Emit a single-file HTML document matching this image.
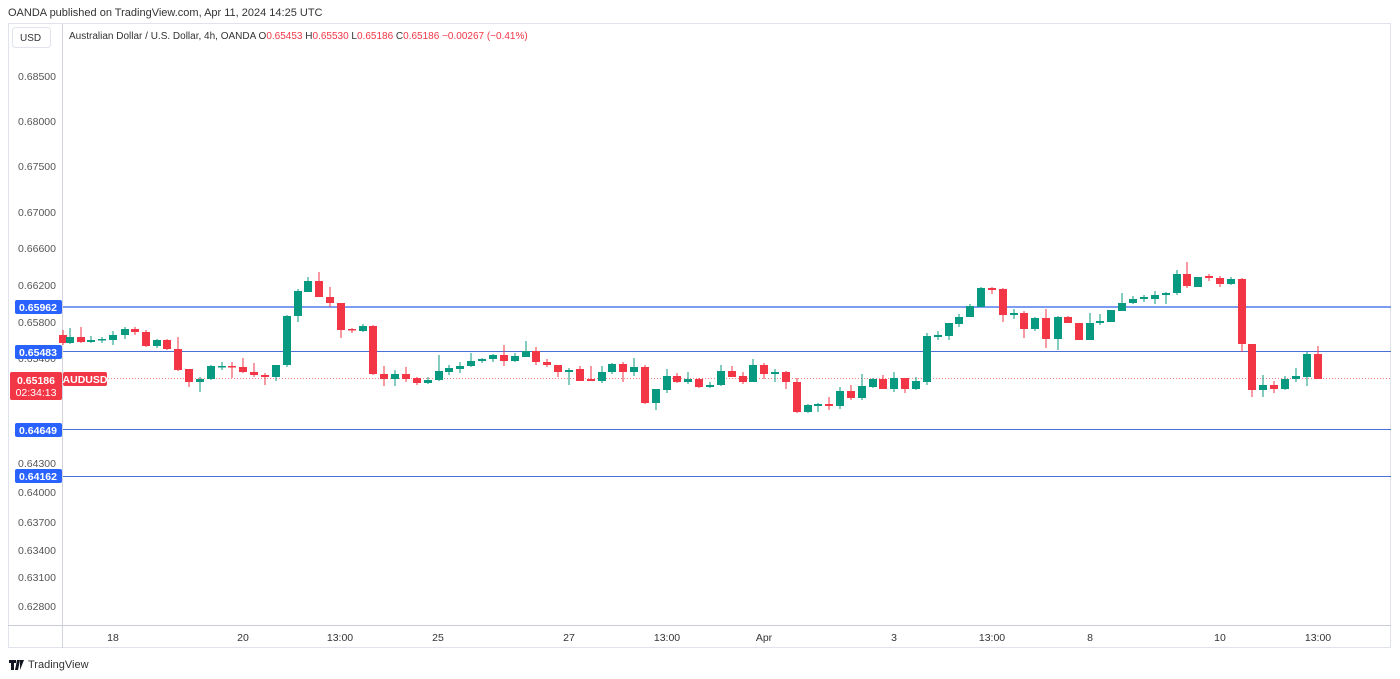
<!DOCTYPE html>
<html><head><meta charset="utf-8"><style>
html,body{margin:0;padding:0;background:#fff;width:1400px;height:679px;overflow:hidden;font-family:"Liberation Sans",sans-serif}
</style></head><body>
<svg id="s" width="1400" height="679" xmlns="http://www.w3.org/2000/svg" font-family="Liberation Sans, sans-serif">
<text x="8" y="16" font-size="11" fill="#333">OANDA published on TradingView.com, Apr 11, 2024 14:25 UTC</text>
<rect x="8.5" y="23.5" width="1382" height="624" fill="none" stroke="#e0e3eb"/>
<line x1="62.5" y1="24" x2="62.5" y2="648" stroke="#d1d4dc"/>
<line x1="8" y1="625.5" x2="1391" y2="625.5" stroke="#c8cbd3"/>
<rect x="12.5" y="27.5" width="38" height="20" rx="3" fill="#fff" stroke="#e0e3eb"/>
<text x="20" y="41" font-size="10" fill="#333">USD</text>
<text x="69" y="39" font-size="10" fill="#333">Australian Dollar / U.S. Dollar, 4h, OANDA <tspan>O</tspan><tspan fill="#f23645">0.65453</tspan> <tspan>H</tspan><tspan fill="#f23645">0.65530</tspan> <tspan>L</tspan><tspan fill="#f23645">0.65186</tspan> <tspan>C</tspan><tspan fill="#f23645">0.65186  −0.00267 (−0.41%)</tspan></text>
<g font-size="10.5" fill="#555" text-anchor="end">
<text x="56" y="80">0.68500</text><text x="56" y="125">0.68000</text><text x="56" y="170">0.67500</text>
<text x="56" y="216">0.67000</text><text x="56" y="252">0.66600</text><text x="56" y="289">0.66200</text>
<text x="56" y="326">0.65800</text><text x="56" y="362">0.65400</text><text x="56" y="399">0.65000</text>
<text x="56" y="467">0.64300</text><text x="56" y="496">0.64000</text><text x="56" y="526">0.63700</text>
<text x="56" y="554">0.63400</text><text x="56" y="581">0.63100</text><text x="56" y="610">0.62800</text>
</g>
<g font-size="10.5" fill="#333" text-anchor="middle">
<text x="113" y="641">18</text><text x="243" y="641">20</text><text x="340" y="641">13:00</text>
<text x="438" y="641">25</text><text x="569" y="641">27</text><text x="667" y="641">13:00</text>
<text x="764" y="641">Apr</text><text x="894" y="641">3</text><text x="992" y="641">13:00</text>
<text x="1090" y="641">8</text><text x="1220" y="641">10</text><text x="1318" y="641">13:00</text>
</g>
<line x1="63" y1="307" x2="1391" y2="307" stroke="#7b9cf0" stroke-width="2"/>
<line x1="63" y1="351.5" x2="1391" y2="351.5" stroke="#4a6fd8" stroke-width="1"/>
<line x1="63" y1="429.5" x2="1391" y2="429.5" stroke="#4a6fd8" stroke-width="1"/>
<line x1="63" y1="476.5" x2="1391" y2="476.5" stroke="#4a6fd8" stroke-width="1"/>
<line x1="63" y1="378.5" x2="1391" y2="378.5" stroke="#f77c80" stroke-dasharray="1,2"/>
<g id="c"></g>
<g font-size="10.5" font-weight="bold" fill="#fff" text-anchor="middle">
<rect x="15" y="300" width="47" height="14" rx="2" fill="#2962ff"/><text x="38" y="311">0.65962</text>
<rect x="15" y="345" width="47" height="14" rx="2" fill="#2962ff"/><text x="38" y="356">0.65483</text>
<rect x="15" y="423" width="47" height="14" rx="2" fill="#2962ff"/><text x="38" y="434">0.64649</text>
<rect x="15" y="469" width="47" height="14" rx="2" fill="#2962ff"/><text x="38" y="480">0.64162</text>
<rect x="10" y="372" width="52" height="28" rx="2" fill="#f23645"/><text x="36" y="384">0.65186</text>
<text x="36" y="396" font-weight="normal">02:34:13</text>
<rect x="63" y="372" width="44" height="14" rx="2" fill="#f23645"/><text x="85" y="383">AUDUSD</text>
</g>
<g transform="translate(9,659)"><path d="M0 1h7v3H5v7H2V4H0z M8 1h3l-2 10H6z M11 1h4l-4 10z" fill="#131722"/></g>
<text x="28" y="668" font-size="11" fill="#333">TradingView</text>
</svg>
<script>
var G='#089981',R='#f23645';
var d=[
[63,335,343,330,345,R],[70,337,343,328,344,G],[81,337,342,327,343,R],[91,340,342,336,343,G],[102,339,340,337,343,G],
[113,335,340,331,345,G],[125,329,335,327,339,G],[135,329,332,327,335,R],[146,332,346,330,347,R],[157,340,346,339,348,G],
[167,340,349,339,350,R],[178,349,370,337,371,R],[189,369,382,369,387,R],[200,379,382,377,392,G],[211,366,379,365,380,G],
[222,366,367,362,370,G],[232,366,367,362,378,R],[243,367,372,358,373,R],[254,372,375,363,377,R],[265,375,377,373,385,R],
[276,365,377,365,381,G],[287,316,365,315,367,G],[298,291,316,289,322,G],[308,281,292,277,292,G],[319,281,297,272,297,R],
[330,297,303,287,307,R],[341,303,330,303,338,R],[352,329,330,328,333,R],[363,326,331,324,332,G],[373,326,374,325,375,R],
[384,374,379,366,386,R],[395,374,379,370,386,G],[406,374,379,367,382,R],[417,378,383,377,385,R],[428,380,383,377,384,G],
[439,371,380,355,381,G],[449,368,372,365,375,G],[460,366,369,362,373,G],[471,361,366,353,367,G],[482,359,361,358,363,G],
[493,355,359,354,362,G],[504,355,361,345,366,R],[515,356,361,353,362,G],[526,351,357,341,357,G],[536,351,362,347,365,R],
[547,362,365,359,367,R],[558,365,372,365,377,R],[569,370,372,368,385,G],[580,369,381,366,381,R],[591,379,381,366,381,R],
[602,372,381,366,383,G],[612,364,372,363,374,G],[623,364,372,362,382,R],[634,367,372,358,376,G],[645,367,403,365,404,R],
[656,389,403,389,410,G],[667,376,390,369,393,G],[677,376,382,373,383,R],[688,379,382,372,384,G],[699,379,387,378,388,R],
[710,385,387,382,388,G],[721,371,385,365,386,G],[732,371,377,366,377,R],[743,376,382,372,384,R],[753,365,382,359,382,G],
[764,365,374,363,379,R],[775,372,374,369,382,G],[786,372,382,371,389,R],[797,382,412,378,413,R],[808,405,412,404,413,G],
[818,404,406,403,412,G],[829,404,406,397,410,R],[840,391,406,387,409,G],[851,391,398,385,400,R],[862,386,398,374,400,G],
[873,379,387,378,388,G],[883,379,389,375,389,R],[894,378,389,372,392,G],[905,378,389,378,393,R],[916,381,389,377,390,G],
[927,336,382,333,385,G],[938,335,337,331,340,G],[949,323,336,323,340,G],[959,317,324,314,327,G],[970,306,317,304,317,G],
[981,288,307,287,307,G],[992,288,290,287,294,R],[1003,289,315,288,322,R],[1014,313,315,309,319,G],[1024,313,329,311,338,R],
[1035,318,329,317,331,G],[1046,318,339,309,348,R],[1058,317,339,316,350,G],[1068,317,323,316,323,R],[1079,323,340,323,340,R],
[1090,323,340,313,340,G],[1100,321,323,314,325,G],[1111,310,322,310,322,G],[1122,303,311,293,311,G],[1133,299,303,296,304,G],
[1144,297,299,295,302,G],[1155,295,299,291,304,G],[1166,293,295,292,304,G],[1177,274,293,270,295,G],[1187,274,286,262,288,R],
[1198,277,287,277,287,G],[1209,276,278,274,281,R],[1220,278,284,276,287,R],[1231,279,284,277,285,G],[1242,279,344,278,352,R],
[1252,344,390,344,397,R],[1263,385,390,375,397,G],[1274,385,389,381,393,R],[1285,379,389,376,390,G],[1296,376,379,368,382,G],
[1307,354,377,352,386,G],[1318,354,379,346,379,R]];
var s='';d.forEach(function(c){var x=c[0];s+='<line x1="'+x+'" y1="'+c[3]+'" x2="'+x+'" y2="'+c[4]+'" stroke="'+c[5]+'" stroke-width="1"/>';
var h=Math.max(1.5,c[2]-c[1]);s+='<rect x="'+(x-4)+'" y="'+c[1]+'" width="8" height="'+h+'" fill="'+c[5]+'"/>';});
document.getElementById('c').innerHTML=s;
</script>
</body></html>
